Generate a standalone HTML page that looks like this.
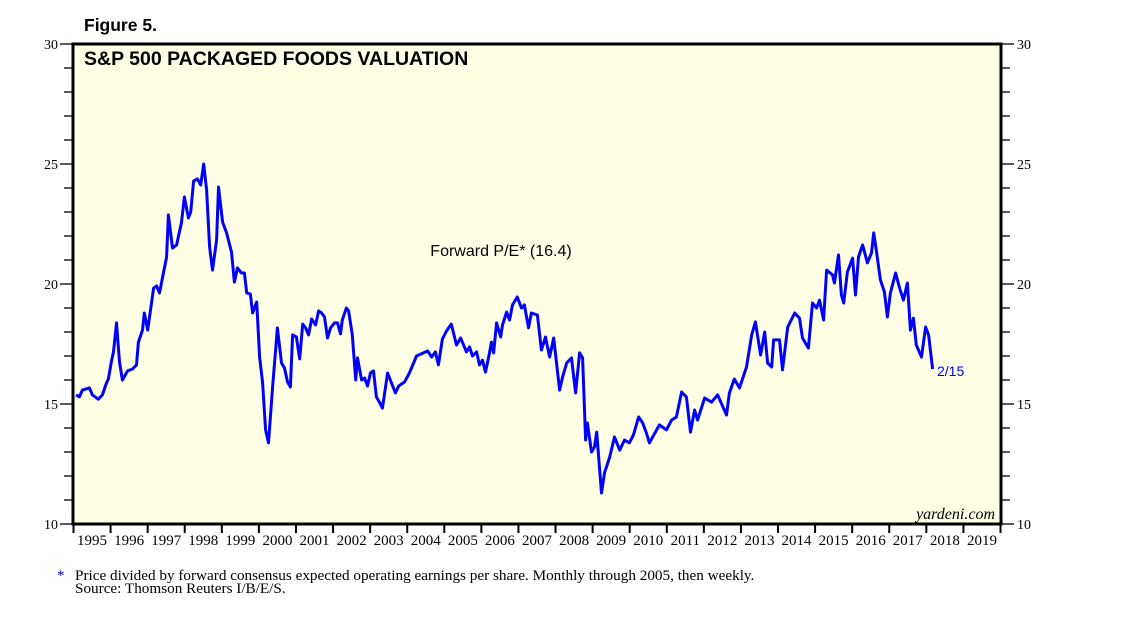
<!DOCTYPE html>
<html><head><meta charset="utf-8"><style>
body{margin:0;background:#fff;width:1138px;height:621px;overflow:hidden}
svg{display:block}
</style></head><body>
<svg id="chart" width="1138" height="621" xmlns="http://www.w3.org/2000/svg">
<text x="84" y="31" font-family="Liberation Sans, sans-serif" font-weight="bold" font-size="17.5">Figure 5.</text>
<rect x="73" y="44" width="928" height="480" fill="#ffffe6"/>
<g id="axes"></g>
<path id="line" fill="none" stroke="#0000ff" stroke-width="3" stroke-linejoin="round"/>
<rect x="73" y="44" width="928" height="480" fill="none" stroke="#000" stroke-width="3"/>
<text x="84" y="65" font-family="Liberation Sans, sans-serif" font-weight="bold" font-size="19.5">S&amp;P 500 PACKAGED FOODS VALUATION</text>
<text x="501" y="256" text-anchor="middle" font-family="Liberation Sans, sans-serif" font-size="16">Forward P/E* (16.4)</text>
<text x="937" y="376" font-family="Liberation Sans, sans-serif" font-size="14" fill="#0000ff">2/15</text>
<text x="995" y="519" text-anchor="end" font-family="Liberation Serif, serif" font-style="italic" font-size="16">yardeni.com</text>
<text x="57" y="580" font-family="Liberation Serif, serif" font-size="15" fill="#0000c0">*</text>
<text x="75" y="580" font-family="Liberation Serif, serif" font-size="15.2">Price divided by forward consensus expected operating earnings per share. Monthly through 2005, then weekly.</text>
<text x="75" y="593" font-family="Liberation Serif, serif" font-size="15.2">Source: Thomson Reuters I/B/E/S.</text>
</svg>
<script>
const yearLabels=[1995,1996,1997,1998,1999,2000,2001,2002,2003,2004,2005,2006,2007,2008,2009,2010,2011,2012,2013,2014,2015,2016,2017,2018,2019];
const yTicks=[10,15,20,25,30];
const dates=[1995.07,1995.16,1995.24,1995.43,1995.51,1995.67,1995.78,1995.89,1995.94,1996.02,1996.08,1996.16,1996.24,1996.32,1996.46,1996.59,1996.70,1996.75,1996.86,1996.91,1997.0,1997.16,1997.24,1997.32,1997.51,1997.56,1997.67,1997.78,1997.91,1997.99,1998.10,1998.16,1998.24,1998.34,1998.43,1998.51,1998.59,1998.67,1998.75,1998.86,1998.91,1999.02,1999.13,1999.26,1999.34,1999.42,1999.53,1999.61,1999.67,1999.77,1999.83,1999.94,2000.02,2000.10,2000.18,2000.26,2000.37,2000.50,2000.61,2000.69,2000.77,2000.85,2000.91,2001.01,2001.10,2001.18,2001.26,2001.34,2001.42,2001.53,2001.61,2001.69,2001.77,2001.85,2001.93,2002.04,2002.12,2002.20,2002.25,2002.36,2002.42,2002.52,2002.61,2002.66,2002.77,2002.85,2002.93,2003.01,2003.09,2003.17,2003.25,2003.33,2003.47,2003.68,2003.77,2003.93,2004.06,2004.25,2004.55,2004.66,2004.76,2004.84,2004.95,2005.06,2005.19,2005.33,2005.44,2005.60,2005.68,2005.76,2005.87,2005.95,2006.03,2006.11,2006.22,2006.27,2006.33,2006.41,2006.52,2006.57,2006.68,2006.76,2006.84,2006.97,2007.08,2007.16,2007.27,2007.35,2007.51,2007.62,2007.73,2007.84,2007.95,2008.11,2008.19,2008.30,2008.43,2008.54,2008.65,2008.73,2008.81,2008.86,2008.97,2009.05,2009.11,2009.24,2009.32,2009.46,2009.59,2009.73,2009.86,2009.99,2010.10,2010.24,2010.35,2010.45,2010.53,2010.80,2010.99,2011.13,2011.26,2011.40,2011.53,2011.64,2011.75,2011.83,2012.02,2012.21,2012.37,2012.61,2012.69,2012.82,2012.96,2013.15,2013.29,2013.39,2013.53,2013.64,2013.72,2013.83,2013.88,2014.04,2014.12,2014.26,2014.45,2014.58,2014.66,2014.82,2014.93,2015.04,2015.12,2015.23,2015.31,2015.47,2015.52,2015.63,2015.71,2015.77,2015.87,2016.01,2016.09,2016.17,2016.28,2016.41,2016.52,2016.58,2016.66,2016.76,2016.87,2016.95,2017.03,2017.17,2017.28,2017.38,2017.49,2017.57,2017.65,2017.73,2017.87,2017.98,2018.06,2018.17];
const peValues=[15.38,15.3,15.58,15.67,15.38,15.2,15.38,15.88,16.04,16.75,17.17,18.38,16.75,16.0,16.38,16.46,16.63,17.58,18.08,18.79,18.08,19.83,19.92,19.63,21.13,22.88,21.5,21.63,22.54,23.63,22.75,23.0,24.29,24.38,24.13,25.0,23.92,21.54,20.58,21.83,24.04,22.58,22.13,21.33,20.08,20.67,20.46,20.46,19.63,19.58,18.79,19.25,16.96,15.88,13.92,13.38,15.71,18.17,16.71,16.5,15.92,15.71,17.88,17.79,16.88,18.33,18.17,17.88,18.54,18.29,18.88,18.79,18.63,17.75,18.17,18.38,18.38,17.92,18.5,19.0,18.88,17.88,16.0,16.92,16.0,16.08,15.75,16.29,16.38,15.29,15.08,14.83,16.29,15.46,15.75,15.92,16.29,17.0,17.21,16.96,17.17,16.63,17.71,18.04,18.33,17.46,17.75,17.17,17.38,17.0,17.17,16.63,16.83,16.33,17.13,17.58,17.13,18.38,17.79,18.29,18.83,18.5,19.13,19.46,19.0,19.13,18.17,18.79,18.71,17.25,17.79,16.96,17.75,15.58,16.13,16.71,16.92,15.46,17.13,16.92,13.5,14.21,13.0,13.21,13.83,11.29,12.13,12.79,13.63,13.08,13.5,13.38,13.71,14.46,14.21,13.79,13.38,14.13,13.92,14.33,14.46,15.5,15.29,13.83,14.75,14.33,15.25,15.08,15.38,14.54,15.46,16.04,15.67,16.54,17.88,18.42,17.04,18.0,16.71,16.54,17.67,17.67,16.42,18.21,18.79,18.58,17.75,17.33,19.21,19.0,19.33,18.5,20.58,20.38,20.04,21.21,19.54,19.21,20.5,21.08,19.54,21.13,21.63,20.88,21.29,22.13,21.29,20.17,19.67,18.63,19.63,20.46,19.83,19.33,20.04,18.08,18.58,17.46,16.96,18.21,17.88,16.46];

const X0=73.5,X1=1000.5,Y0=524,Y1=44,T0=1995,T1=2020,V0=10,V1=30;
function xs(t){return X0+(t-T0)/(T1-T0)*(X1-X0);}
function ys(v){return Y0-(v-V0)/(V1-V0)*(Y0-Y1);}
const NS='http://www.w3.org/2000/svg';
const axes=document.getElementById('axes');
function mk(tag,attrs){const e=document.createElementNS(NS,tag);for(const k in attrs)e.setAttribute(k,attrs[k]);axes.appendChild(e);return e;}
for(let v=V0;v<=V1;v++){
  const y=ys(v);const major=yTicks.includes(v);
  const l=mk('line',{x1:major?60:64,x2:73,y1:y,y2:y,stroke:'#000','stroke-width':1.3});
  
  
  const r=mk('line',{x1:1001,x2:major?1014:1010,y1:y,y2:y,stroke:'#000','stroke-width':1.3});
  
  
}
yTicks.forEach(v=>{
  const y=ys(v);
  const a=mk('text',{x:58,y:y+5,'text-anchor':'end','font-family':'Liberation Serif, serif','font-size':14});
  a.textContent=v;
  
  
  const b=mk('text',{x:1017,y:y+5,'font-family':'Liberation Serif, serif','font-size':14});
  b.textContent=v;
  
  
});
for(let i=0;i<=yearLabels.length;i++){
  const x=xs(T0+i);
  const t=mk('line',{x1:x,x2:x,y1:524,y2:533,stroke:'#000','stroke-width':2});
  
  
}
yearLabels.forEach(yr=>{
  const lb=mk('text',{x:xs(yr+0.5),y:545,'text-anchor':'middle','font-family':'Liberation Serif, serif','font-size':15});
  lb.textContent=yr;
  
  
});
let d='';
dates.forEach((t,i)=>{d+=(i?'L':'M')+xs(t).toFixed(1)+','+ys(peValues[i]).toFixed(1);});
document.getElementById('line').setAttribute('d',d);
</script>
</body></html>
